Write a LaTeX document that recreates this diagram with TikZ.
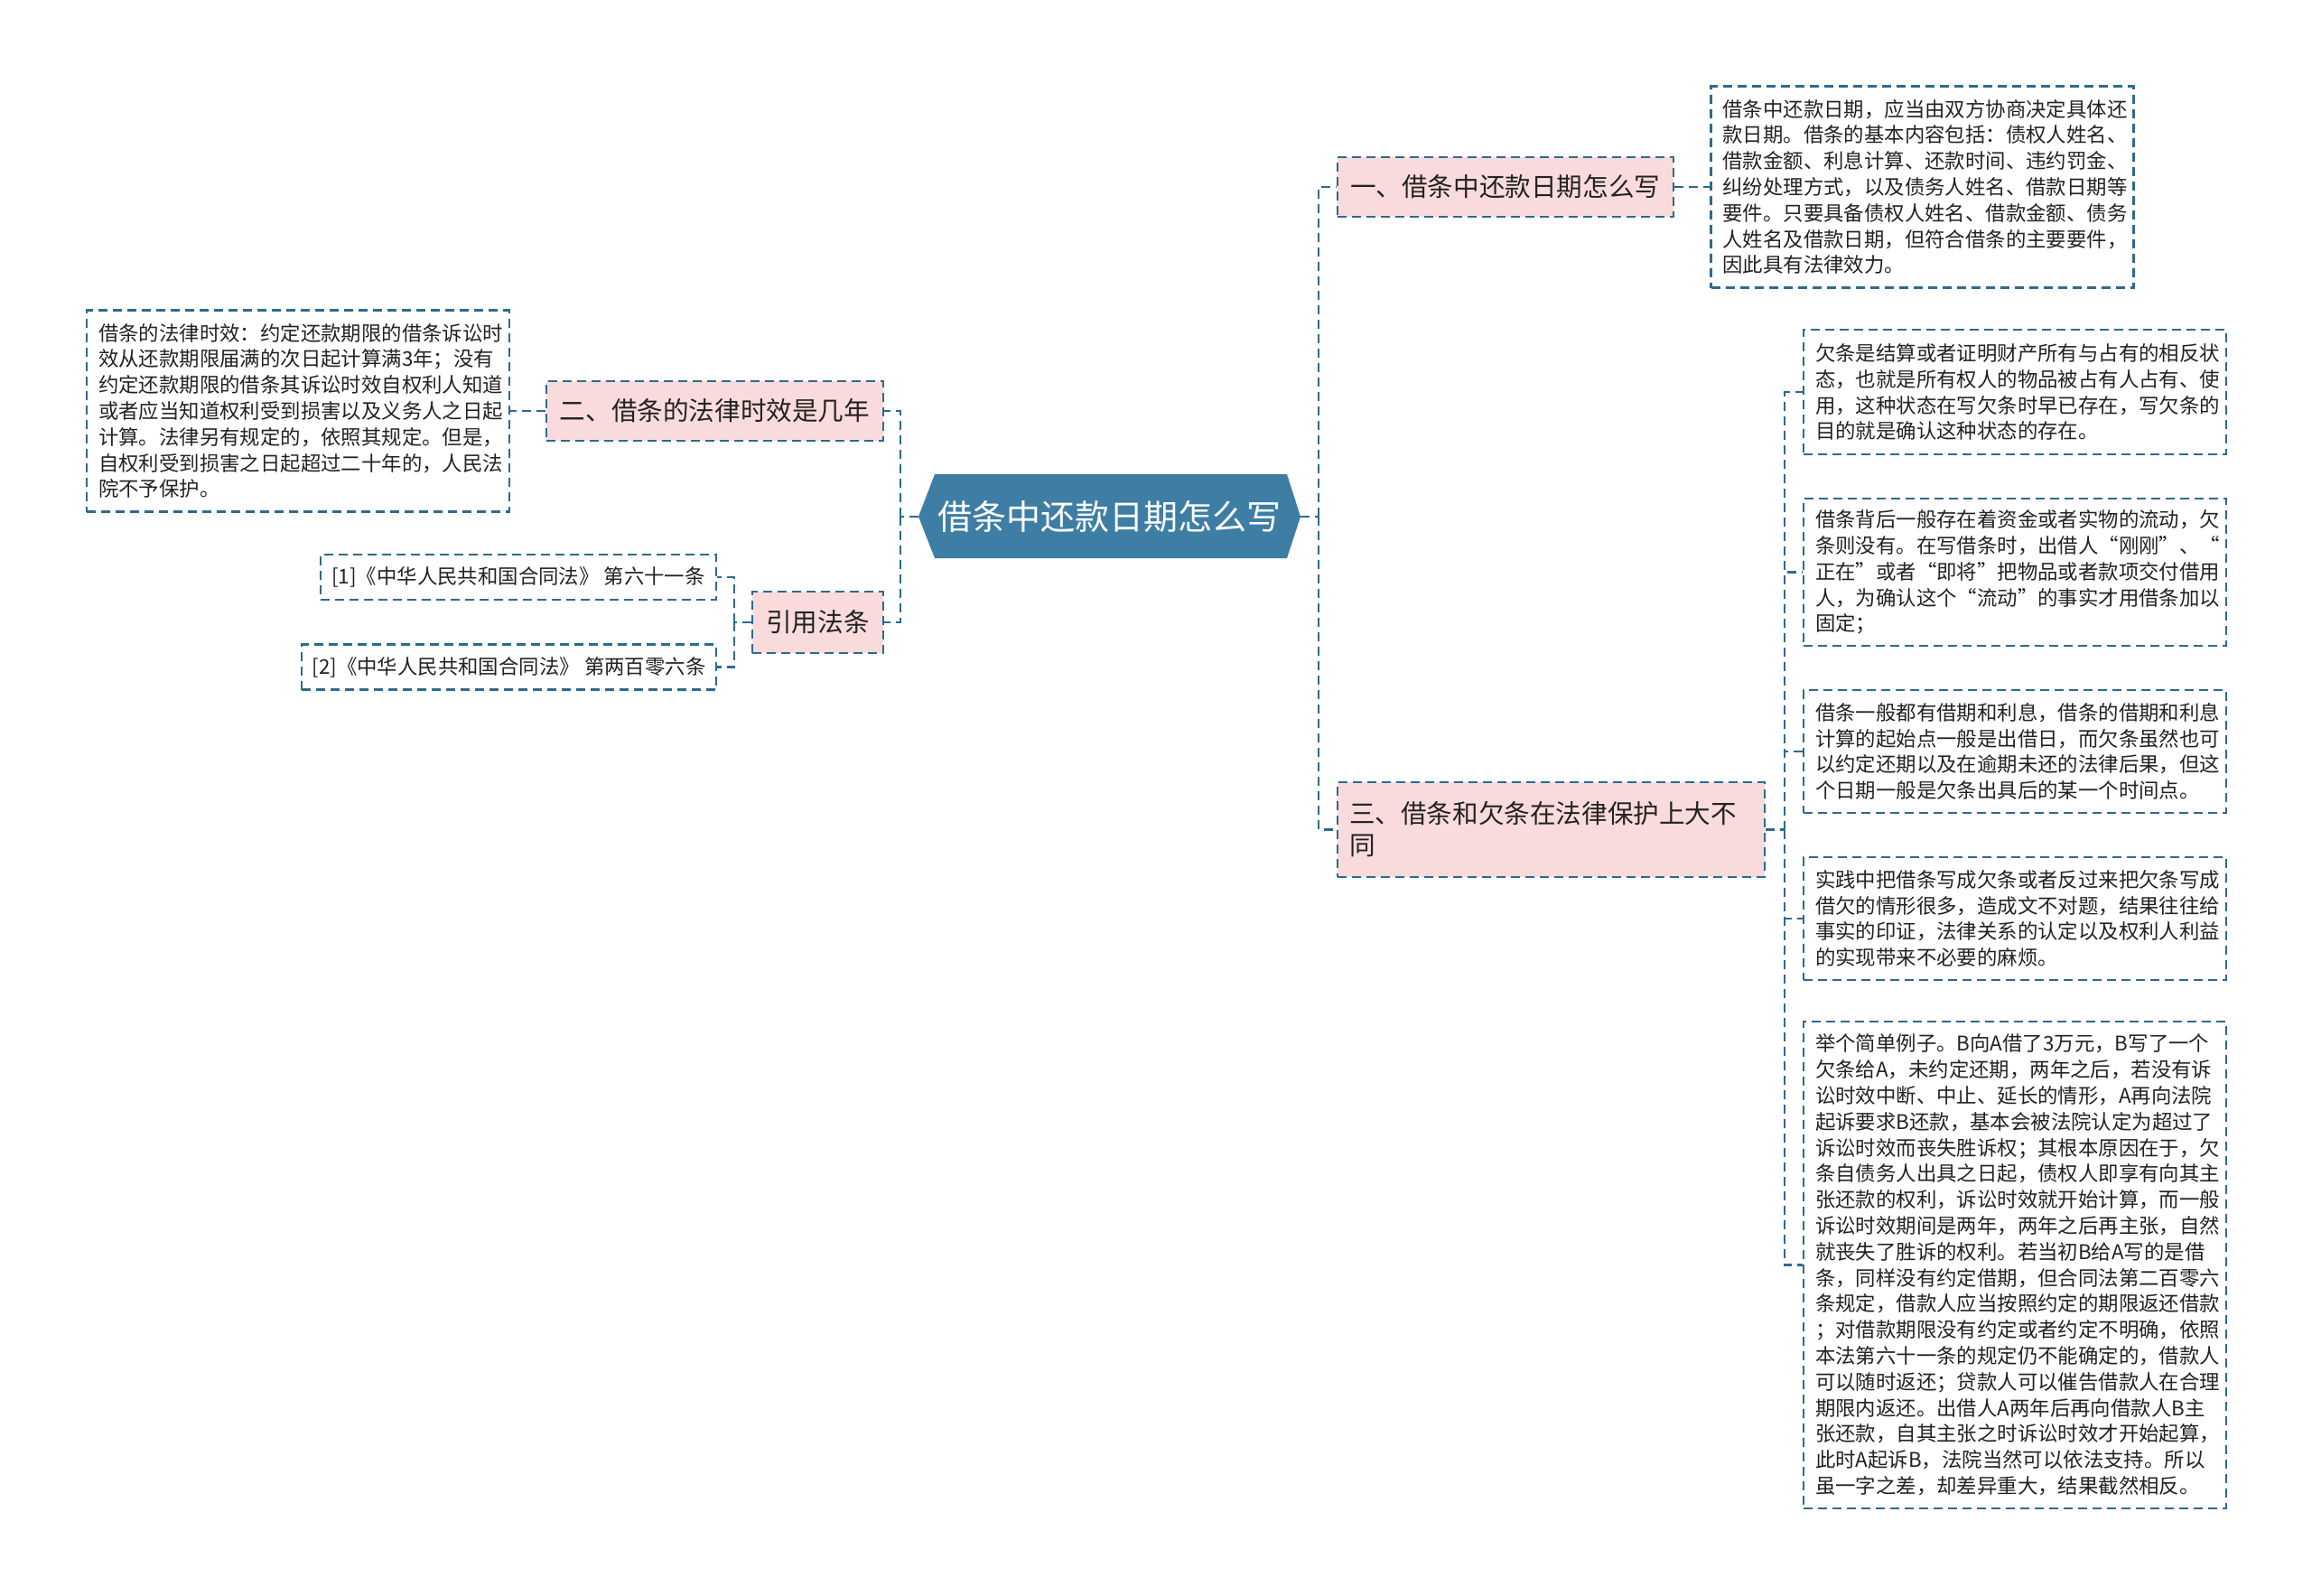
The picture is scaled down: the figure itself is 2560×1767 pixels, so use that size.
\documentclass[tikz,border=0pt]{standalone}
\usepackage{fontspec}
\setmainfont{Noto Sans CJK SC}
\definecolor{linec}{HTML}{2D6A8F}
\definecolor{rootc}{HTML}{3E7EA5}
\definecolor{pinkc}{HTML}{FADBDB}
\definecolor{txtc}{HTML}{222222}
\begin{document}
\begin{tikzpicture}[x=0.5pt,y=-0.5pt,
  conn/.style={draw=linec, line width=1.2pt, dash pattern=on 5pt off 3pt},
  leafbox/.style={draw=linec, line width=1.2pt, dash pattern=on 5pt off 3pt, fill=white,
    text=txtc, font=\fontsize{11.2pt}{14.4pt}\selectfont, align=left,
    inner xsep=6.5pt, inner ysep=0pt, text width=221pt},
  refbox/.style={draw=linec, line width=1.2pt, dash pattern=on 5pt off 3pt, fill=white,
    text=txtc, font=\fontsize{11.2pt}{14.4pt}\selectfont, align=center,
    inner sep=0pt, minimum height=25pt},
  branchbox/.style={draw=linec, line width=1.2pt, dash pattern=on 5pt off 3pt, fill=pinkc,
    text=txtc, font=\fontsize{14.3pt}{17.5pt}\selectfont, inner sep=0pt},
  roottext/.style={text=white, font=\fontsize{19pt}{23pt}\selectfont, inner sep=0pt,
    minimum width=211.5pt, minimum height=46.5pt}
]
\useasboundingbox (0,0) rectangle (2560,1767);
\fill[white] (0,0) rectangle (2560,1767);

% root
\fill[rootc] (1017,572) -- (1035,525) -- (1425,525) -- (1440,572) -- (1425,618) -- (1035,618) -- cycle;
\node[roottext] (root) at (1228.5,572) {借条中还款日期怎么写};

% branches
\node[branchbox, minimum width=186pt, minimum height=33pt, align=left, text width=172pt] (b1) at (1667,207) {一、借条中还款日期怎么写};
\node[branchbox, minimum width=186.5pt, minimum height=33pt, align=center] (b2) at (791.5,455) {二、借条的法律时效是几年};
\node[branchbox, minimum width=72.5pt, minimum height=34pt, align=center] (bref) at (905.5,689) {引用法条};
\node[branchbox, minimum height=52.5pt, align=left, inner xsep=6.5pt, text width=223.5pt] (b3) at (1717.5,918.5) {三、借条和欠条在法律保护上大不\\同};

% leaves
\node[leafbox, minimum height=111.5pt] (l1) at (2128.5,207) {借条中还款日期，应当由双方协商决定具体还\\款日期。借条的基本内容包括：债权人姓名、\\借款金额、利息计算、还款时间、违约罚金、\\纠纷处理方式，以及债务人姓名、借款日期等\\要件。只要具备债权人姓名、借款金额、债务\\人姓名及借款日期，但符合借条的主要要件，\\因此具有法律效力。};

\node[leafbox, minimum height=111.5pt] (l2) at (330,455) {借条的法律时效：约定还款期限的借条诉讼时\\效从还款期限届满的次日起计算满3年；没有\\约定还款期限的借条其诉讼时效自权利人知道\\或者应当知道权利受到损害以及义务人之日起\\计算。法律另有规定的，依照其规定。但是，\\自权利受到损害之日起超过二十年的，人民法\\院不予保护。};

\node[refbox, minimum width=219pt] (ref1) at (574,639) {[1]《中华人民共和国合同法》 第六十一条};
\node[refbox, minimum width=229.5pt] (ref2) at (563.5,738.5) {[2]《中华人民共和国合同法》 第两百零六条};

\node[leafbox, minimum height=69pt] (l3a) at (2231,434) {欠条是结算或者证明财产所有与占有的相反状\\态，也就是所有权人的物品被占有人占有、使\\用，这种状态在写欠条时早已存在，写欠条的\\目的就是确认这种状态的存在。};

\node[leafbox, minimum height=81.5pt] (l3b) at (2231,633.5) {借条背后一般存在着资金或者实物的流动，欠\\条则没有。在写借条时，出借人“刚刚”、“\\正在”或者“即将”把物品或者款项交付借用\\人，为确认这个“流动”的事实才用借条加以\\固定；};

\node[leafbox, minimum height=68pt] (l3c) at (2231,832) {借条一般都有借期和利息，借条的借期和利息\\计算的起始点一般是出借日，而欠条虽然也可\\以约定还期以及在逾期未还的法律后果，但这\\个日期一般是欠条出具后的某一个时间点。};

\node[leafbox, minimum height=68pt] (l3d) at (2231,1017) {实践中把借条写成欠条或者反过来把欠条写成\\借欠的情形很多，造成文不对题，结果往往给\\事实的印证，法律关系的认定以及权利人利益\\的实现带来不必要的麻烦。};

\node[leafbox, minimum height=269.5pt] (l3e) at (2231,1400.5) {举个简单例子。B向A借了3万元，B写了一个\\欠条给A，未约定还期，两年之后，若没有诉\\讼时效中断、中止、延长的情形，A再向法院\\起诉要求B还款，基本会被法院认定为超过了\\诉讼时效而丧失胜诉权；其根本原因在于，欠\\条自债务人出具之日起，债权人即享有向其主\\张还款的权利，诉讼时效就开始计算，而一般\\诉讼时效期间是两年，两年之后再主张，自然\\就丧失了胜诉的权利。若当初B给A写的是借\\条，同样没有约定借期，但合同法第二百零六\\条规定，借款人应当按照约定的期限返还借款\\；对借款期限没有约定或者约定不明确，依照\\本法第六十一条的规定仍不能确定的，借款人\\可以随时返还；贷款人可以催告借款人在合理\\期限内返还。出借人A两年后再向借款人B主\\张还款，自其主张之时诉讼时效才开始起算，\\此时A起诉B，法院当然可以依法支持。所以\\虽一字之差，却差异重大，结果截然相反。};

% bus coordinates
\coordinate (rb) at (1460,572);
\coordinate (lb) at (997,572);
\coordinate (rfb) at (813,689);
\coordinate (b3b) at (1976,918.5);

% connectors
\draw[conn] (root.east) -- (rb);
\draw[conn] (rb) |- (b1.west);
\draw[conn] (rb) |- (b3.west);
\draw[conn] (root.west) -- (lb);
\draw[conn] (lb) |- (b2.east);
\draw[conn] (lb) |- (bref.east);
\draw[conn] (b1.east) -- (l1.west);
\draw[conn] (b2.west) -- (l2.east);
\draw[conn] (bref.west) -- (rfb);
\draw[conn] (rfb) |- (ref1.east);
\draw[conn] (rfb) |- (ref2.east);
\draw[conn] (b3.east) -- (b3b);
\draw[conn] (b3b) |- (l3a.west);
\draw[conn] (b3b) |- (l3b.west);
\draw[conn] (b3b) |- (l3c.west);
\draw[conn] (b3b) |- (l3d.west);
\draw[conn] (b3b) |- (l3e.west);
\end{tikzpicture}
\end{document}
